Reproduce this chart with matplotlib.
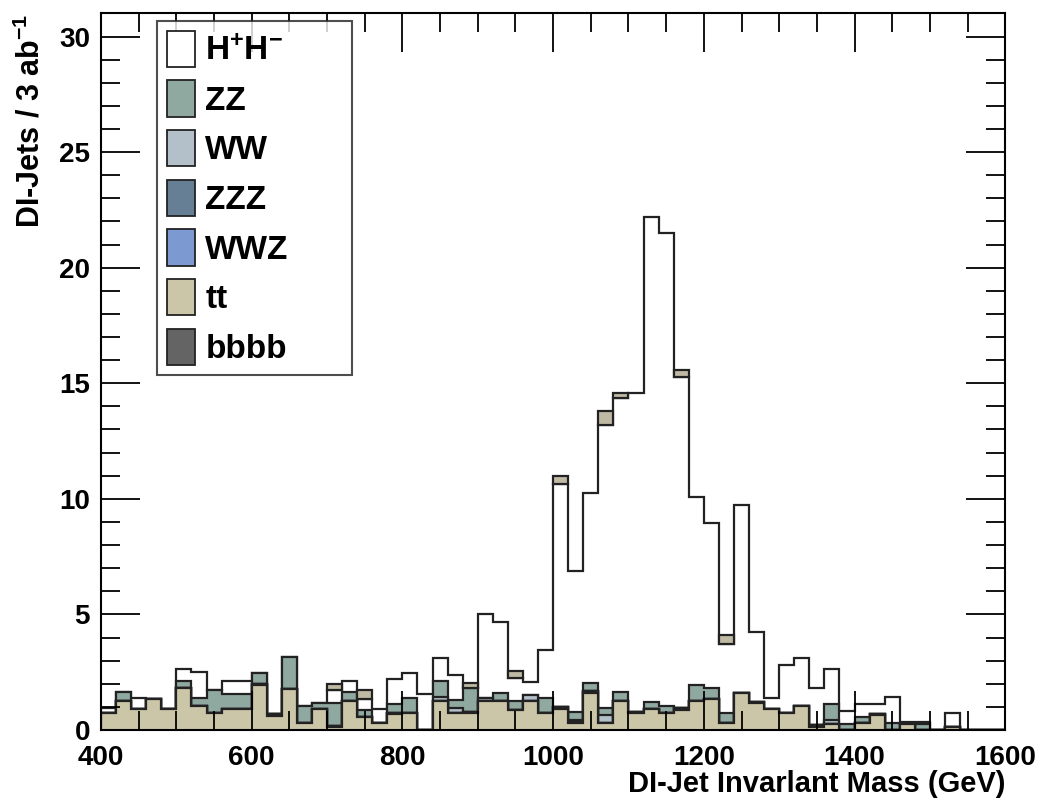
import numpy as np
import matplotlib
matplotlib.use("Agg")
import matplotlib.pyplot as plt
from matplotlib.patches import Patch
from matplotlib.ticker import MultipleLocator

plt.rcParams["font.family"] = ["Liberation Sans", "DejaVu Sans"]
plt.rcParams["font.weight"] = "bold"
plt.rcParams["mathtext.default"] = "regular"

# 60 bins of 20 GeV from 400 to 1600
edges = np.arange(400, 1601, 20)

tt = [0.72, 1.25, 0.89, 1.32, 0.90, 1.80, 1.04, 0.72, 0.89, 0.89,
      1.94, 0.60, 1.77, 0.32, 0.89, 0.15, 1.25, 0.55, 0.32, 0.68,
      0.72, 0.00, 1.25, 0.72, 0.72, 1.25, 1.25, 0.86, 1.25, 0.72,
      0.89, 0.32, 1.58, 0.32, 1.25, 0.72, 0.89, 0.72, 0.86, 1.25,
      1.32, 0.32, 1.58, 1.15, 0.89, 0.72, 1.04, 0.14, 0.26, 0.00,
      0.29, 0.65, 0.00, 0.24, 0.00, 0.00, 0.14, 0.00, 0.00, 0.00]
bbbb = [0, 0, 0, 0, 0, 0, 0, 0, 0, 0,
        0.07, 0.08, 0, 0, 0, 0.04, 0, 0, 0, 0.06,
        0, 0, 0, 0, 0.04, 0, 0, 0, 0, 0,
        0.12, 0.05, 0.10, 0, 0, 0.07, 0, 0, 0.10, 0,
        0, 0, 0, 0.07, 0, 0, 0, 0.07, 0, 0,
        0, 0.05, 0, 0, 0, 0, 0, 0, 0, 0]
wwz = [0.0] * 60
zzz = [0.0] * 60
ww = [0, 0, 0, 0, 0, 0, 0, 0, 0, 0,
      0, 0, 0, 0, 0, 0, 0, 0, 0, 0,
      0, 0, 0.19, 0.22, 0, 0.12, 0, 0, 0.26, 0,
      0, 0.08, 0, 0.33, 0, 0, 0, 0, 0, 0,
      0, 0, 0.04, 0, 0, 0, 0, 0, 0.17, 0,
      0, 0, 0, 0, 0, 0, 0, 0, 0, 0]
zz = [0, 0.38, 0, 0, 0, 0.32, 0.33, 1.01, 0.65, 0.65,
      0.44, 0, 1.40, 0.72, 0.30, 1.00, 0.38, 0.31, 0, 0.38,
      0.65, 0, 0.68, 0.36, 1.07, 0, 0.37, 0.39, 0, 0.65,
      0, 0.34, 0.36, 0.31, 0.38, 0, 0.33, 0.32, 0, 0.69,
      0.48, 0.40, 0, 0, 0, 0, 0, 0, 0.69, 0.25,
      0.26, 0, 0.30, 0, 0.26, 0, 0, 0, 0, 0]
hh = [0.24, 0, 0.48, 0, 0, 0.51, 1.12, 0, 0.59, 0.59,
      0, 0, 0, 0, 0, 0.54, 0.50, 0.46, 0.58, 1.10,
      1.10, 1.54, 1.00, 1.07, 0, 3.63, 3.06, 1.02, 0.58, 2.08,
      9.64, 6.11, 8.22, 12.23, 12.73, 13.81, 20.96, 20.46, 14.29, 8.16,
      7.15, 3.02, 8.13, 3.02, 0.48, 2.08, 2.06, 1.59, 1.50, 0.58,
      0.57, 0.42, 1.14, 0.12, 0.10, 0, 0.58, 0, 0, 0]
# small tt-coloured boxes drawn on top of the signal in some bins
top = [0, 0, 0, 0, 0, 0, 0, 0, 0, 0,
       0, 0, 0, 0, 0, 0.24, 0, 0.41, 0, 0,
       0, 0, 0, 0, 0.21, 0, 0, 0.29, 0, 0,
       0.35, 0, 0, 0.59, 0.24, 0, 0, 0, 0.33, 0,
       0, 0.36, 0, 0, 0, 0, 0, 0, 0, 0,
       0, 0, 0, 0, 0, 0, 0, 0, 0, 0]

labels = ["H$^{+}$H$^{-}$", "ZZ", "WW", "ZZZ", "WWZ", "tt", "bbbb"]
colors = ["white", "#8fa8a0", "#b3c0c9", "#667f94", "#7d99d2", "#ccc6a8", "#646464"]

# stack from bottom: tt, bbbb, WWZ, ZZZ, WW, ZZ, HH
layers = [tt, bbbb, wwz, zzz, ww, zz, hh]
layer_colors = [colors[5], colors[6], colors[4], colors[3], colors[2], colors[1], colors[0]]
cum = np.cumsum(np.array(layers, dtype=float), axis=0)

fig = plt.figure(figsize=(10.37, 8.07), dpi=100)
ax = fig.add_axes([0.0974, 0.0954, 0.872, 0.888])

lw = 1.6
# draw like ROOT: cumulative sums from the top layer down, each filled from 0
for i in range(len(layers) - 1, -1, -1):
    ax.stairs(cum[i], edges, baseline=0, fill=True, facecolor=layer_colors[i],
              edgecolor="#222222", linewidth=lw)
top = np.array(top)
mask = top > 0
ax.bar(edges[:-1][mask], top[mask], bottom=cum[-1][mask], width=20, align="edge",
       color="#c0baa4", edgecolor="#222222", linewidth=lw)

ax.set_xlim(400, 1600)
ax.set_ylim(0, 31)
ax.xaxis.set_major_locator(MultipleLocator(200))
ax.xaxis.set_minor_locator(MultipleLocator(50))
ax.yaxis.set_major_locator(MultipleLocator(5))
ax.yaxis.set_minor_locator(MultipleLocator(1))
ax.tick_params(which="both", direction="in", top=True, right=True, width=1.3, labelsize=20)
ax.tick_params(which="major", length=28)
ax.tick_params(which="minor", length=14)
ax.tick_params(axis="x", pad=11)
ax.tick_params(axis="y", pad=8)
for s in ax.spines.values():
    s.set_linewidth(1.5)

ax.set_xlabel("DI-Jet Invarlant Mass (GeV)", fontsize=21, fontweight="bold", loc="right")
ax.xaxis.set_label_coords(1.0, -0.056)
ax.set_ylabel("DI-Jets / 3 ab$^{-1}$", fontsize=22, fontweight="bold", loc="top")
ax.yaxis.set_label_coords(-0.06, 1.0)

handles = [Patch(facecolor=c, edgecolor="#222222", linewidth=1.3) for c in colors]
leg = ax.legend(handles, labels, loc="upper left", bbox_to_anchor=(0.062, 0.99, 0.216, 0.0),
                mode="expand", fontsize=24, frameon=True, fancybox=False, borderaxespad=0,
                handlelength=0.85, handleheight=1.3, handletextpad=0.3,
                labelspacing=0.4, borderpad=0.3)
leg.get_frame().set_edgecolor("#222222")
leg.get_frame().set_linewidth(1.5)
for t in leg.get_texts():
    t.set_fontweight("bold")

fig.savefig("out.png", dpi=100)
